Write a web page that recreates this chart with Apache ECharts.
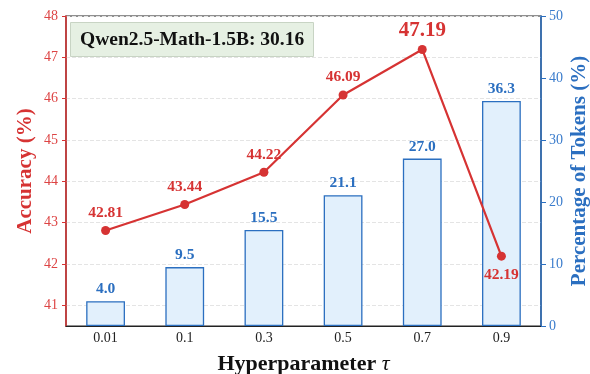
<!DOCTYPE html>
<html><head><meta charset="utf-8">
<script src="https://cdn.jsdelivr.net/npm/echarts@6/dist/echarts.min.js"></script>
<style>html,body{margin:0;padding:0;background:#fff}#c{width:590px;height:374px}</style>
</head><body><div id="c"></div>
<script>
const categories = ['0.01', '0.1', '0.3', '0.5', '0.7', '0.9'];
const accuracy = [42.81, 43.44, 44.22, 46.09, 47.19, 42.19];
const tokens = [4.0, 9.5, 15.5, 21.1, 27.0, 36.3];
const accTicks = [41, 42, 43, 44, 45, 46, 47, 48];
const baseLabel = 'Qwen2.5-Math-1.5B: 30.16';

const RED = '#d63333';
const BLUE = '#2b6fc0';
const FONT = '"Liberation Serif", "Times New Roman", serif';

const chart = echarts.init(document.getElementById('c'));
chart.setOption({
  animation: false,
  textStyle: { fontFamily: FONT },
  title: {
    text: baseLabel,
    left: 70, top: 22,
    padding: [8, 10, 7, 10],
    backgroundColor: '#e6f0e3',
    borderColor: '#c8d4c4', borderWidth: 1,
    textStyle: { fontFamily: FONT, fontWeight: 'bold', fontSize: 19.5, color: '#111' }
  },
  grid: { left: 66, right: 49, top: 16, bottom: 48, outerBoundsMode: 'none', containLabel: false,
    show: true, borderColor: '#222', borderWidth: 1.2, backgroundColor: 'transparent' },
  xAxis: {
    type: 'category', data: categories,
    axisLine: { lineStyle: { color: '#222', width: 1.2 } },
    axisTick: { show: false },
    axisLabel: { color: '#222', fontSize: 14, fontFamily: FONT, margin: 5 },
    name: 'Hyperparameter {i|τ}', nameLocation: 'middle', nameGap: 27, nameMoveOverlap: false,
    nameTextStyle: { fontSize: 22, fontWeight: 'bold', color: '#111', fontFamily: FONT, verticalAlign: 'top',
      rich: { i: { fontStyle: 'italic', fontSize: 22, fontWeight: 'normal', fontFamily: FONT, color: '#111' } } }
  },
  yAxis: [
    {
      type: 'value', min: 40.5, max: 48,
      axisLabel: { color: '#dd4444', fontSize: 14, fontFamily: FONT, customValues: accTicks },
      axisLine: { show: true, lineStyle: { color: RED, width: 1.5 } },
      axisTick: { show: true, length: 4, lineStyle: { color: RED }, customValues: accTicks },
      splitLine: { show: true, lineStyle: { color: '#e4e4e4', type: 'dashed' } },
      name: 'Accuracy (%)', nameLocation: 'middle', nameRotate: 90, nameGap: 30, nameMoveOverlap: false,
      nameTextStyle: { color: RED, fontSize: 21, fontWeight: 'bold', fontFamily: FONT }
    },
    {
      type: 'value', min: 0, max: 50, interval: 10, position: 'right',
      axisLabel: { color: '#3a7ccc', fontSize: 14, fontFamily: FONT },
      axisLine: { show: true, lineStyle: { color: BLUE, width: 1.5 } },
      axisTick: { show: true, length: 5, lineStyle: { color: BLUE } },
      splitLine: { show: false },
      name: 'Percentage of Tokens (%)', nameLocation: 'middle', nameRotate: 90, nameGap: 28, nameMoveOverlap: false,
      nameTextStyle: { color: BLUE, fontSize: 21, fontWeight: 'bold', fontFamily: FONT, verticalAlign: 'top' }
    }
  ],
  series: [
    {
      type: 'bar', yAxisIndex: 1, data: tokens, barWidth: '49%',
      itemStyle: { color: '#e2f0fc', borderColor: BLUE, borderWidth: 1.3 },
      label: { show: true, position: 'top', distance: 4, color: BLUE, fontWeight: 'bold', fontSize: 15.5, fontFamily: FONT,
        formatter: p => p.value.toFixed(1) },
      z: 2
    },
    {
      type: 'line', yAxisIndex: 0,
      data: accuracy.map((v, i) => {
        const d = { value: v };
        if (i === 4) d.label = { fontSize: 21, distance: 4 };
        if (i === 5) d.label = { position: 'bottom', distance: 6 };
        return d;
      }),
      symbol: 'circle', symbolSize: 9,
      lineStyle: { color: RED, width: 2.2 },
      itemStyle: { color: RED },
      label: { show: true, position: 'top', distance: 5, color: RED, fontWeight: 'bold', fontSize: 15.5, fontFamily: FONT,
        formatter: p => p.value.toFixed(2) },
      z: 5
    }
  ]
});
</script></body></html>
